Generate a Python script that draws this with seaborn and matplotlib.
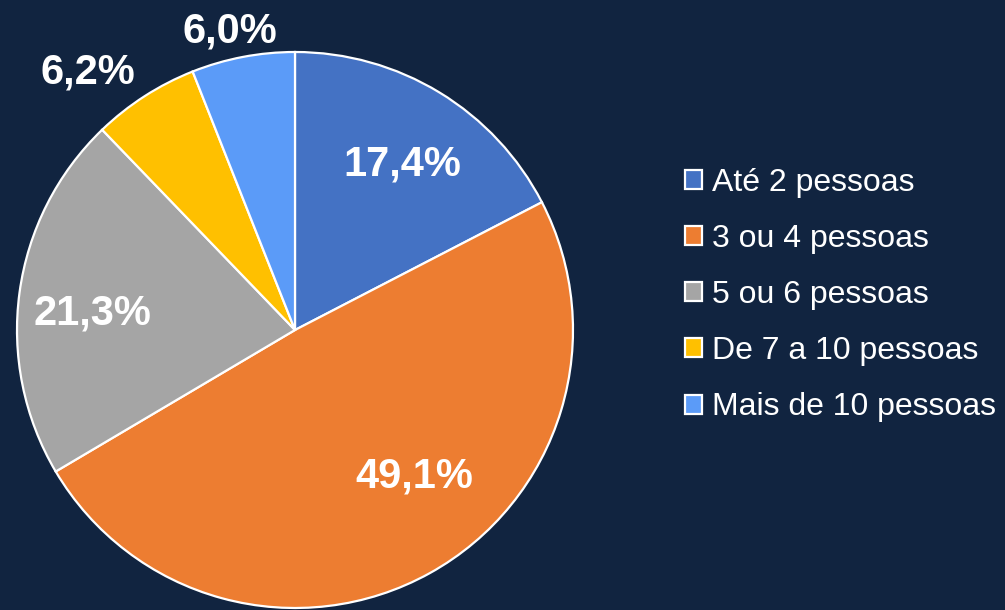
import numpy as np
import matplotlib
matplotlib.use('Agg')
import matplotlib.pyplot as plt
import seaborn as sns

# data
categories = ['Até 2 pessoas', '3 ou 4 pessoas', '5 ou 6 pessoas',
              'De 7 a 10 pessoas', 'Mais de 10 pessoas']
shares = [17.4, 49.1, 21.3, 6.2, 6.0]
pct_labels = ['17,4%', '49,1%', '21,3%', '6,2%', '6,0%']

# label placement: distance from centre (radius units) and angular nudge (deg)
label_dist = [0.71, 0.68, 0.73, 1.19, 1.10]
label_nudge = [-1.5, 10.0, 3.0, 6.0, 1.5]

bg = '#112440'
colors = sns.color_palette(['#4472C4', '#ED7D31', '#A5A5A5', '#FFC000', '#5B9BF8'])

sns.set_style('white')
plt.rcParams['font.family'] = ['Liberation Sans', 'DejaVu Sans']

fig = plt.figure(figsize=(10.05, 6.10), dpi=100, facecolor=bg)
W, H = 1005, 610
cx, cy, r = 295, 330, 278
ax = fig.add_axes([(cx - r) / W, (H - cy - r) / H, 2 * r / W, 2 * r / H])
ax.set_facecolor(bg)

wedges, _ = ax.pie(shares, colors=colors, startangle=90, counterclock=False,
                   radius=1.0, wedgeprops=dict(edgecolor='white', linewidth=1.6))
ax.set_xlim(-1, 1)
ax.set_ylim(-1, 1)
ax.set_aspect('equal')
ax.axis('off')

for w, txt, d, nudge in zip(wedges, pct_labels, label_dist, label_nudge):
    mid = np.deg2rad((w.theta1 + w.theta2) / 2 + nudge)
    ax.text(d * np.cos(mid), d * np.sin(mid), txt, ha='center', va='center',
            color='white', fontsize=30, fontweight='bold', clip_on=False)

fig.legend(wedges, categories, loc='center left',
           bbox_to_anchor=(685 / W, 1 - 295 / H), frameon=False,
           fontsize=23, labelcolor='white', handlelength=0.54, handleheight=0.54,
           handletextpad=0.3, labelspacing=0.82, borderpad=0, borderaxespad=0)

fig.savefig('out.png', dpi=100, facecolor=bg)
